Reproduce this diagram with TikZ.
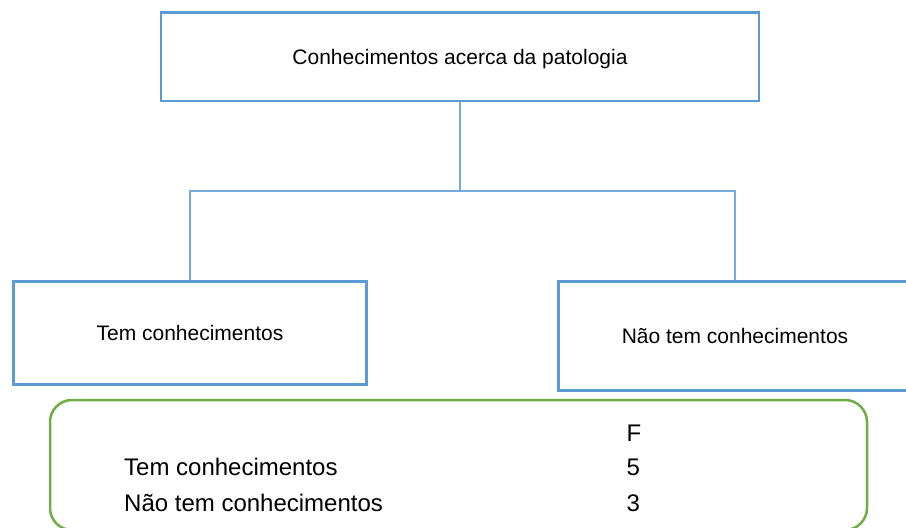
\documentclass[tikz,border=0pt]{standalone}
\usepackage{fontspec}
\setmainfont{Liberation Sans}
\definecolor{boxblue}{HTML}{5B9BD5}
\definecolor{connblue}{HTML}{76A9DC}
\definecolor{boxgreen}{HTML}{70AD47}
\tikzset{
  box/.style={draw=boxblue, line width=2.4pt, inner sep=0pt, text height=15pt, text depth=0pt,
    font=\fontsize{21}{25}\selectfont},
  conn/.style={draw=connblue, line width=1.3pt},
  tbl/.style={inner sep=0pt, anchor=base west, font=\fontsize{24}{28}\selectfont},
}
\begin{document}
\begin{tikzpicture}[x=1pt,y=-1pt]
\useasboundingbox (0,0) rectangle (906,528);
\clip (0,0) rectangle (906,528);
\fill[white] (0,0) rectangle (906,528);
\node[box, minimum width=598pt, minimum height=88.7pt] (top) at (460,56.7) {Conhecimentos acerca da patologia};
\node[box, minimum width=353pt, minimum height=103pt] (lbox) at (190,333) {Tem conhecimentos};
\node[box, minimum width=353pt, minimum height=109pt] (rbox) at (735,336) {Não tem conhecimentos};
\coordinate (mid) at (460,191);
\draw[conn] (top.south) -- (mid) -| (lbox.north);
\draw[conn] (mid) -| (rbox.north);
\node[draw=boxgreen, line width=2.5pt, rounded corners=22pt, minimum width=817pt, minimum height=130pt, inner sep=0pt] (tab) at (458.5,465) {};
\node[tbl] (hF) at (626.5,441) {F};
\node[tbl] (r1) at (124,475.7) {Tem conhecimentos};
\node[tbl] (v1) at (626.5,475.7) {5};
\node[tbl] (r2) at (124,511.7) {Não tem conhecimentos};
\node[tbl] (v2) at (626.5,511.7) {3};
\end{tikzpicture}
\end{document}
